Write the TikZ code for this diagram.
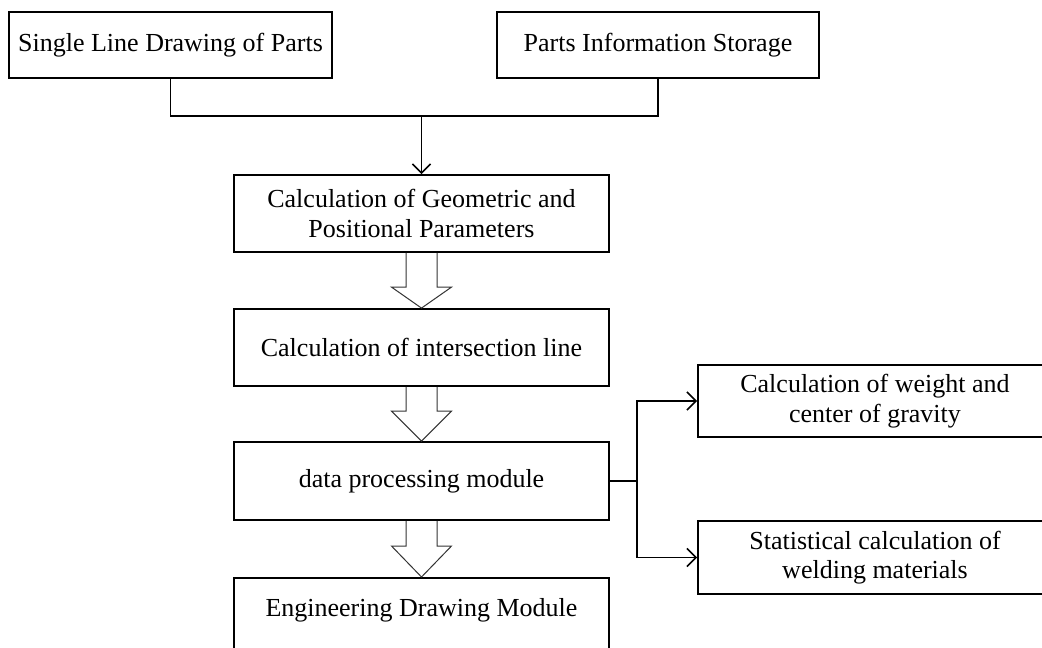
\documentclass[tikz,border=0pt]{standalone}
\usepackage{fontspec}
\setmainfont{Liberation Serif}
\usetikzlibrary{arrows.meta,calc}
\tikzset{
  box/.style={draw, line width=1.8pt, inner sep=0pt, align=center,
    font=\fontsize{26}{30}\selectfont},
  plain/.style={inner sep=0pt, align=center, font=\fontsize{26}{30}\selectfont},
  conn/.style={line width=1.8pt},
  barb/.style={-{Straight Barb[length=9pt,width=18pt,line width=1.6pt]}},
  hollow/.style={line width=1pt, draw=black!80, line join=miter}
}
\newcommand\hollowarr[3]{%
  \draw[hollow] ($(#1.south)+(-15.5,0)$) -- ($(#2.north)+(-15.5,-#3)$)
    -- ($(#2.north)+(-30,-#3)$) -- (#2.north) -- ($(#2.north)+(30,-#3)$)
    -- ($(#2.north)+(15.5,-#3)$) -- ($(#1.south)+(15.5,0)$);}
\begin{document}
\begin{tikzpicture}[x=1pt,y=-1pt]
\useasboundingbox (0,0) rectangle (1042,648);
\clip (0,0) rectangle (1042,648);
\node[box, minimum width=323pt, minimum height=66pt] (A) at (170.5,45) {Single Line Drawing of Parts};
\node[box, minimum width=322pt, minimum height=66pt] (B) at (658,45) {Parts Information Storage};
\node[box, minimum width=375pt, minimum height=77pt] (C) at (421.5,213.5) {Calculation of Geometric and\\Positional Parameters};
\node[box, minimum width=375pt, minimum height=77pt] (D) at (421.5,347.5) {Calculation of intersection line};
\node[box, minimum width=375pt, minimum height=78pt] (E) at (421.5,481) {data processing module};
\node[box, minimum width=375pt, minimum height=150pt, anchor=north] (F) at (421.5,577) {};
\node[plain, anchor=base] (Ft) at (421.5,616) {Engineering Drawing Module};
\node[box, minimum width=354pt, minimum height=72pt, font=\fontsize{26}{29.5}\selectfont] (G) at (875,401) {Calculation of weight and\\center of gravity};
\node[box, minimum width=354pt, minimum height=73pt, font=\fontsize{26}{29.5}\selectfont] (H) at (875,557.5) {Statistical calculation of\\welding materials};
\coordinate (J) at (421.5,116);
\coordinate (K) at (637,481);
\draw[conn] (A.south) |- (J) -| (B.south);
\draw[conn, barb] (J) -- (C.north);
\hollowarr{C}{D}{21}
\hollowarr{D}{E}{30}
\hollowarr{E}{F}{31}
\draw[conn] (E.east) -- (K);
\draw[conn, barb] (K) |- (G.west);
\draw[conn, barb] (K) |- (H.west);
\end{tikzpicture}
\end{document}
